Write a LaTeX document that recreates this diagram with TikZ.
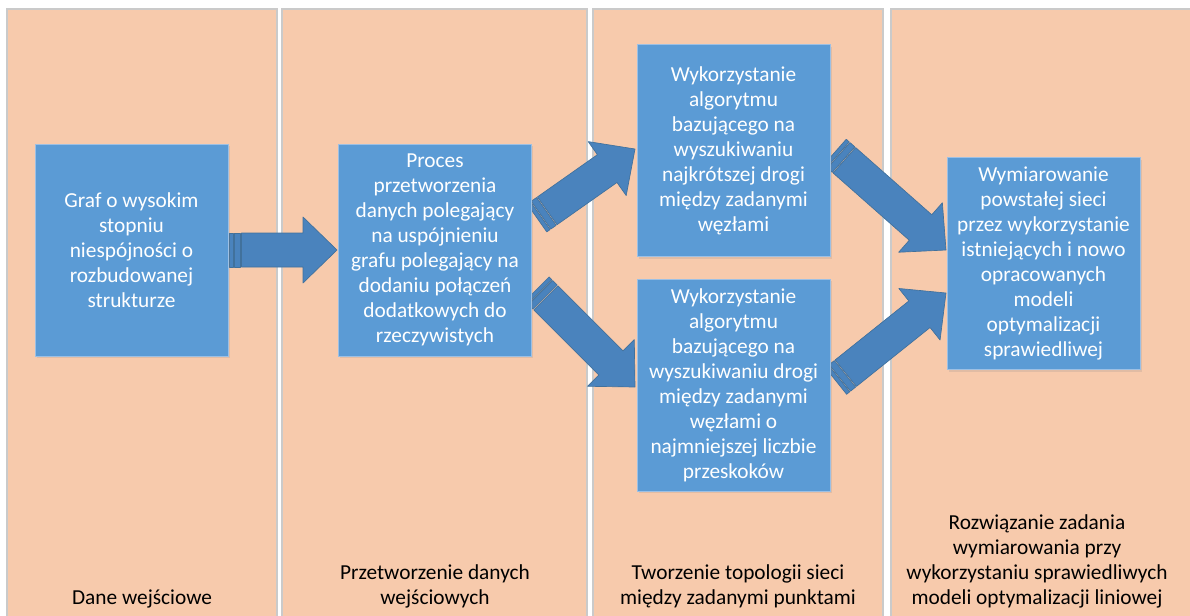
\documentclass[tikz,border=0pt]{standalone}
\usepackage{fontspec}
\setmainfont{Carlito}
\usetikzlibrary{calc, positioning, shadows}

\definecolor{tlo}{HTML}{F7CAAC}
\definecolor{ramka}{HTML}{CACACA}
\definecolor{niebieski}{HTML}{5B9BD5}
\definecolor{niebieskiramka}{HTML}{9DC0E4}
\definecolor{strzalka}{HTML}{4A83BD}
\definecolor{strzalkaramka}{HTML}{41719C}

\tikzset{
  kolumna/.style={fill=tlo, draw=ramka, line width=0.8pt},
  blok/.style={fill=niebieski, draw=niebieskiramka, line width=0.6pt,
    text=white, align=center, inner sep=0pt,
    minimum width=144.75pt, minimum height=159pt,
    font=\fontsize{16}{18.75}\selectfont,
    drop shadow={opacity=0.18, shadow xshift=1.2pt, shadow yshift=-1.5pt}},
  etykieta/.style={align=center, anchor=south, inner sep=0pt, text depth=0pt,
    font=\fontsize{16}{18.75}\selectfont},
  strzalkastyl/.style={fill=strzalka, draw=strzalkaramka, line width=0.5pt, line join=round}
}

% block arrow with striped tail: #1 tail, #2 tip
\newcommand{\blokstrzalka}[2]{%
  \filldraw[strzalkastyl] ($(#1)!12.75pt!90:(#2)$) -- ($(#1)!3pt!(#2)!12.75pt!90:(#2)$)
    -- ($(#1)!3pt!(#2)!12.75pt!-90:(#2)$) -- ($(#1)!12.75pt!-90:(#2)$) -- cycle;
  \filldraw[strzalkastyl] ($(#1)!3.75pt!(#2)!12.75pt!90:(#2)$) -- ($(#1)!8.6pt!(#2)!12.75pt!90:(#2)$)
    -- ($(#1)!8.6pt!(#2)!12.75pt!-90:(#2)$) -- ($(#1)!3.75pt!(#2)!12.75pt!-90:(#2)$) -- cycle;
  \filldraw[strzalkastyl] ($(#1)!9.4pt!(#2)!12.75pt!90:(#2)$)
    -- ($(#2)!25.5pt!(#1)!12.75pt!-90:(#1)$) -- ($(#2)!25.5pt!(#1)!24.75pt!-90:(#1)$)
    -- (#2)
    -- ($(#2)!25.5pt!(#1)!24.75pt!90:(#1)$) -- ($(#2)!25.5pt!(#1)!12.75pt!90:(#1)$)
    -- ($(#1)!9.4pt!(#2)!12.75pt!-90:(#2)$) -- cycle;
}

\begin{document}
\begin{tikzpicture}[x=0.75pt, y=-0.75pt]
  \clip (0,0) rectangle (1190,615);
  \fill[white] (0,0) rectangle (1190,615);

  % stage columns
  \draw[kolumna] (7,9) rectangle (277,630);
  \draw[kolumna] (282,9) rectangle (587,630);
  \draw[kolumna] (593,9) rectangle (883,630);
  \draw[kolumna] (891,9) rectangle (1200,630);

  % placeholders for the boxes (arrows go underneath)
  \path (131.5,250) coordinate (c1) (435,250) coordinate (c2)
        (733.5,150.5) coordinate (c3) (733.5,385) coordinate (c4)
        (1043.5,263.5) coordinate (c5);

  % arrow ends
  \coordinate (a1s) at ($(c1)+(97.5,0)$);
  \coordinate (a1k) at ($(c2)+(-98,0)$);
  \coordinate (a2s) at ($(c2)+(102,-32)$);
  \coordinate (a2k) at ($(c3)+(-98.5,-1.5)$);
  \coordinate (a3s) at ($(c2)+(102,39)$);
  \coordinate (a3k) at ($(c4)+(-98.5,2)$);
  \coordinate (a4s) at ($(c3)+(101.5,1.5)$);
  \coordinate (a4k) at ($(c5)+(-97.5,-13.5)$);
  \coordinate (a5s) at ($(c4)+(102.5,-4)$);
  \coordinate (a5k) at ($(c5)+(-97.5,29.5)$);

  \blokstrzalka{a1s}{a1k}
  \blokstrzalka{a2s}{a2k}
  \blokstrzalka{a3s}{a3k}
  \blokstrzalka{a4s}{a4k}
  \blokstrzalka{a5s}{a5k}

  % boxes
  \node[blok] (graf) at (c1) {Graf o wysokim\\stopniu\\niespójności o\\rozbudowanej\\strukturze};
  \node[blok] (proces) at (c2) {Proces\\przetworzenia\\danych polegający\\na uspójnieniu\\grafu polegający na\\dodaniu połączeń\\dodatkowych do\\rzeczywistych};
  \node[blok] (najkrotsza) at (c3) {Wykorzystanie\\algorytmu\\bazującego na\\wyszukiwaniu\\najkrótszej drogi\\między zadanymi\\węzłami};
  \node[blok] (przeskoki) at (c4) {Wykorzystanie\\algorytmu\\bazującego na\\wyszukiwaniu drogi\\między zadanymi\\węzłami o\\najmniejszej liczbie\\przeskoków};
  \node[blok] (wymiar) at (c5) {Wymiarowanie\\powstałej sieci\\przez wykorzystanie\\istniejących i nowo\\opracowanych\\modeli\\optymalizacji\\sprawiedliwej};

  % column captions
  \node[etykieta] (etap1) at (142,605) {Dane wejściowe};
  \node[etykieta] (etap2) at (435,605) {Przetworzenie danych\\wejściowych};
  \node[etykieta] (etap3) at (738,605) {Tworzenie topologii sieci\\między zadanymi punktami};
  \node[etykieta] (etap4) at (1037,605) {Rozwiązanie zadania\\wymiarowania przy\\wykorzystaniu sprawiedliwych\\modeli optymalizacji liniowej};
\end{tikzpicture}
\end{document}
